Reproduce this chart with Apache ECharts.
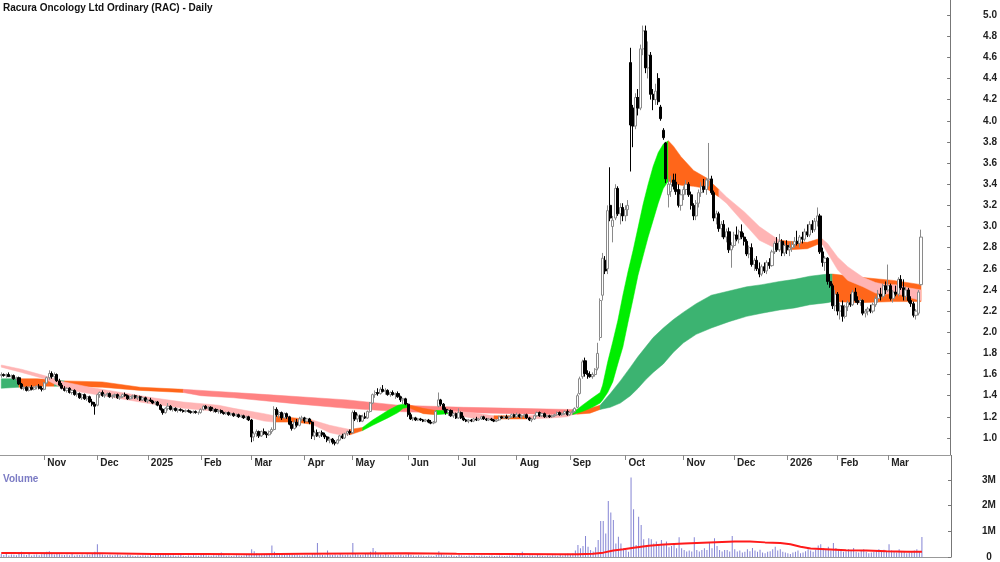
<!DOCTYPE html>
<html>
<head>
<meta charset="utf-8">
<script src="https://cdn.jsdelivr.net/npm/echarts@6/dist/echarts.min.js"></script>
<style>
  html, body { margin: 0; padding: 0; background: #fff; }
  #chart { width: 1000px; height: 562px; }
</style>
</head>
<body>
<div id="chart"></div>
<script>
// ASX trading calendar: weekdays minus these holidays
const holidays = ['2024-12-25', '2024-12-26', '2025-01-01', '2025-01-27', '2025-04-18', '2025-04-21',
  '2025-04-25', '2025-06-09', '2025-12-25', '2025-12-26', '2026-01-01', '2026-01-26']

// daily candles [open, high, low, close]
const oct24 = [[1.59,1.62,1.57,1.60],[1.60,1.61,1.58,1.59],[1.59,1.61,1.57,1.60],[1.60,1.62,1.58,1.58],[1.58,1.60,1.56,1.59],
  [1.59,1.60,1.55,1.56],[1.56,1.58,1.54,1.57],[1.57,1.58,1.50,1.51],[1.51,1.52,1.46,1.47],[1.47,1.49,1.45,1.48],
  [1.48,1.49,1.44,1.45],[1.45,1.49,1.44,1.48],[1.48,1.50,1.45,1.46],[1.46,1.49,1.45,1.48],[1.48,1.50,1.46,1.49],
  [1.49,1.51,1.46,1.47],[1.47,1.49,1.44,1.46]]
const nov24 = [[1.46,1.53,1.45,1.52],[1.52,1.58,1.51,1.57],[1.57,1.64,1.55,1.61],[1.61,1.63,1.56,1.58],[1.58,1.62,1.55,1.60],
  [1.60,1.61,1.53,1.54],[1.54,1.56,1.49,1.50],[1.50,1.52,1.46,1.47],[1.47,1.49,1.44,1.45],[1.45,1.48,1.43,1.47],
  [1.47,1.48,1.42,1.43],[1.43,1.46,1.41,1.45],[1.45,1.46,1.40,1.41],[1.41,1.44,1.39,1.42],[1.42,1.43,1.37,1.38],
  [1.38,1.42,1.36,1.41],[1.41,1.42,1.36,1.37],[1.37,1.40,1.35,1.39],[1.39,1.40,1.33,1.34],[1.34,1.37,1.30,1.32],
  [1.32,1.34,1.22,1.30]]
const dec24 = [[1.31,1.42,1.30,1.41],[1.41,1.44,1.38,1.43],[1.43,1.45,1.39,1.40],[1.40,1.42,1.38,1.41],[1.41,1.43,1.39,1.42],
  [1.42,1.43,1.38,1.39],[1.39,1.41,1.37,1.40],[1.40,1.42,1.38,1.41],[1.41,1.42,1.37,1.38],[1.38,1.40,1.36,1.39],
  [1.39,1.42,1.38,1.41],[1.41,1.43,1.39,1.40],[1.40,1.41,1.36,1.37],[1.37,1.40,1.36,1.39],[1.39,1.41,1.37,1.40],
  [1.40,1.41,1.37,1.38],[1.38,1.40,1.36,1.39],[1.39,1.40,1.35,1.36],[1.36,1.39,1.35,1.38],[1.38,1.39,1.34,1.35]]
const jan25 = [[1.35,1.37,1.33,1.36],[1.36,1.38,1.34,1.35],[1.35,1.36,1.32,1.33],[1.33,1.35,1.31,1.34],[1.34,1.35,1.30,1.31],
  [1.31,1.32,1.26,1.27],[1.27,1.28,1.22,1.24],[1.24,1.29,1.23,1.28],[1.28,1.33,1.26,1.30],[1.30,1.31,1.26,1.27],
  [1.27,1.29,1.25,1.28],[1.28,1.29,1.25,1.26],[1.26,1.28,1.24,1.27],[1.27,1.28,1.25,1.26],[1.26,1.27,1.24,1.25],
  [1.25,1.27,1.24,1.26],[1.26,1.27,1.24,1.25],[1.25,1.26,1.23,1.24],[1.24,1.26,1.23,1.25],[1.25,1.26,1.23,1.24],
  [1.24,1.25,1.22,1.24]]
const feb25 = [[1.24,1.28,1.23,1.27],[1.27,1.31,1.26,1.30],[1.30,1.31,1.27,1.28],[1.28,1.30,1.26,1.29],[1.29,1.30,1.25,1.26],
  [1.26,1.28,1.24,1.27],[1.27,1.28,1.24,1.25],[1.25,1.27,1.23,1.26],[1.26,1.27,1.23,1.24],[1.24,1.25,1.22,1.23],
  [1.23,1.25,1.22,1.24],[1.24,1.25,1.21,1.22],[1.22,1.24,1.21,1.23],[1.23,1.24,1.20,1.21],[1.21,1.23,1.20,1.22],
  [1.22,1.23,1.19,1.20],[1.20,1.22,1.19,1.21],[1.21,1.22,1.18,1.19],[1.19,1.21,1.17,1.20],[1.20,1.21,1.16,1.17]]
const mar25 = [[1.17,1.18,0.96,1.01],[1.01,1.06,0.97,1.04],[1.04,1.08,1.01,1.06],[1.06,1.07,1.00,1.02],[1.02,1.07,1.01,1.06],
  [1.06,1.09,1.03,1.04],[1.04,1.06,1.00,1.03],[1.03,1.07,1.02,1.06],[1.06,1.10,1.04,1.08],[1.08,1.30,1.07,1.27],
  [1.27,1.29,1.20,1.22],[1.22,1.26,1.19,1.24],[1.24,1.25,1.17,1.19],[1.19,1.24,1.18,1.23],[1.23,1.24,1.18,1.20],
  [1.20,1.21,1.12,1.13],[1.13,1.16,1.07,1.09],[1.09,1.17,1.08,1.15],[1.15,1.18,1.10,1.12],[1.12,1.20,1.11,1.18],
  [1.18,1.21,1.16,1.19]]
const apr25 = [[1.19,1.20,1.14,1.16],[1.16,1.19,1.15,1.18],[1.18,1.19,1.13,1.15],[1.15,1.16,0.99,1.02],[1.02,1.07,0.98,1.05],
  [1.05,1.08,1.01,1.02],[1.02,1.06,1.00,1.05],[1.05,1.07,1.01,1.03],[1.03,1.05,0.99,1.01],[1.01,1.02,0.96,0.98],
  [0.98,1.01,0.95,0.99],[0.99,1.00,0.94,0.96],[0.96,0.98,0.93,0.95],[0.95,0.99,0.94,0.98],[0.98,1.03,0.97,1.02],
  [1.02,1.04,0.99,1.00],[1.00,1.05,0.99,1.04],[1.04,1.07,1.02,1.06],[1.06,1.08,1.03,1.05]]
const may25 = [[1.05,1.26,1.04,1.24],[1.24,1.26,1.16,1.18],[1.18,1.23,1.15,1.21],[1.21,1.22,1.15,1.16],[1.16,1.22,1.15,1.20],
  [1.20,1.24,1.18,1.19],[1.19,1.26,1.18,1.25],[1.25,1.34,1.24,1.33],[1.33,1.42,1.32,1.41],[1.41,1.45,1.38,1.43],
  [1.43,1.47,1.40,1.42],[1.42,1.48,1.41,1.46],[1.46,1.50,1.43,1.44],[1.44,1.47,1.41,1.45],[1.45,1.46,1.40,1.41],
  [1.41,1.44,1.39,1.43],[1.43,1.45,1.40,1.41],[1.41,1.43,1.37,1.42],[1.42,1.44,1.38,1.39],[1.39,1.40,1.34,1.36],
  [1.36,1.38,1.32,1.37],[1.37,1.38,1.31,1.32]]
const jun25 = [[1.32,1.33,1.20,1.22],[1.22,1.24,1.17,1.18],[1.18,1.20,1.16,1.19],[1.19,1.20,1.16,1.17],[1.17,1.19,1.16,1.18],
  [1.18,1.19,1.16,1.17],[1.17,1.18,1.15,1.16],[1.16,1.18,1.15,1.17],[1.17,1.18,1.14,1.15],[1.15,1.17,1.13,1.14],
  [1.14,1.16,1.13,1.15],[1.15,1.26,1.14,1.25],[1.30,1.43,1.29,1.36],[1.36,1.37,1.30,1.32],[1.32,1.33,1.26,1.27],
  [1.27,1.29,1.22,1.24],[1.24,1.27,1.21,1.26],[1.26,1.27,1.20,1.21],[1.21,1.24,1.19,1.23],[1.23,1.24,1.18,1.19]]
const jul25 = [[1.19,1.28,1.18,1.24],[1.24,1.25,1.18,1.19],[1.19,1.21,1.16,1.17],[1.17,1.18,1.15,1.16],[1.16,1.18,1.14,1.17],
  [1.17,1.18,1.15,1.16],[1.16,1.19,1.15,1.18],[1.18,1.20,1.16,1.17],[1.17,1.19,1.16,1.18],[1.18,1.21,1.17,1.20],
  [1.20,1.21,1.17,1.18],[1.18,1.19,1.16,1.17],[1.17,1.19,1.16,1.18],[1.18,1.19,1.16,1.17],[1.17,1.18,1.15,1.16],
  [1.16,1.18,1.15,1.17],[1.17,1.21,1.16,1.20],[1.20,1.21,1.18,1.19],[1.19,1.21,1.18,1.20],[1.20,1.22,1.18,1.19],
  [1.19,1.21,1.17,1.20],[1.20,1.23,1.19,1.22],[1.22,1.23,1.19,1.20]]
const aug25 = [[1.20,1.24,1.19,1.22],[1.22,1.23,1.19,1.20],[1.20,1.22,1.18,1.21],[1.21,1.23,1.19,1.22],[1.22,1.23,1.18,1.19],
  [1.19,1.20,1.16,1.17],[1.17,1.19,1.15,1.18],[1.18,1.22,1.17,1.21],[1.21,1.25,1.20,1.24],[1.24,1.25,1.20,1.21],
  [1.21,1.24,1.20,1.23],[1.23,1.24,1.19,1.20],[1.20,1.22,1.19,1.21],[1.21,1.22,1.19,1.20],[1.20,1.22,1.19,1.21],
  [1.21,1.23,1.20,1.22],[1.22,1.25,1.21,1.24],[1.24,1.25,1.21,1.22],[1.22,1.24,1.21,1.23],[1.23,1.26,1.22,1.25],
  [1.25,1.27,1.21,1.22]]
const sep25 = [[1.22,1.25,1.21,1.24],[1.24,1.27,1.22,1.25],[1.25,1.29,1.24,1.28],[1.29,1.42,1.28,1.40],[1.42,1.58,1.41,1.56],
  [1.58,1.74,1.56,1.72],[1.73,1.76,1.58,1.61],[1.61,1.64,1.56,1.60],[1.60,1.63,1.57,1.58],[1.58,1.62,1.56,1.60],
  [1.60,1.66,1.58,1.65],[1.66,1.90,1.64,1.80],[1.95,2.32,1.92,2.30],[2.35,2.75,2.30,2.70],[2.68,2.72,2.55,2.58],
  [2.60,3.20,2.55,3.15],[3.20,3.56,3.05,3.08],[3.00,3.10,2.85,3.06],[3.08,3.40,3.06,3.36],[3.36,3.38,3.10,3.12],
  [3.12,3.22,3.02,3.18],[3.18,3.22,3.05,3.10]]
const oct25 = [[3.10,3.20,3.05,3.16],[3.16,3.25,3.10,3.20],[4.55,4.69,3.52,3.96],[4.12,4.15,3.75,3.95],[3.95,4.26,3.92,4.22],
  [4.22,4.30,4.05,4.12],[4.12,4.72,4.10,4.68],[4.68,4.90,4.62,4.85],[4.85,4.90,4.45,4.50],[4.50,4.75,4.40,4.62],
  [4.62,4.65,4.20,4.25],[4.25,4.30,4.10,4.20],[4.20,4.35,4.15,4.28],[4.40,4.45,4.15,4.18],[4.13,4.15,4.00,4.02],
  [3.91,3.93,3.82,3.84],[3.79,3.80,3.41,3.45],[3.30,3.45,3.18,3.40],[3.33,3.48,3.28,3.40],[3.44,3.50,3.35,3.38],
  [3.42,3.50,3.30,3.33],[3.35,3.40,3.18,3.20],[3.20,3.35,3.15,3.30]]
const nov25 = [[3.30,3.38,3.25,3.35],[3.35,3.44,3.30,3.40],[3.40,3.42,3.28,3.30],[3.30,3.33,3.16,3.20],[3.20,3.22,3.06,3.10],
  [3.10,3.25,3.06,3.22],[3.22,3.35,3.18,3.32],[3.32,3.42,3.28,3.38],[3.38,3.45,3.32,3.35],[3.35,3.46,3.30,3.44],
  [3.44,3.79,3.38,3.45],[3.45,3.48,3.30,3.32],[3.32,3.34,3.05,3.08],[3.08,3.15,3.02,3.12],[3.12,3.14,2.95,2.98],
  [2.98,3.05,2.90,3.02],[3.02,3.06,2.88,2.90],[2.90,2.98,2.85,2.95],[2.95,2.99,2.75,2.78],[2.78,2.85,2.61,2.82]]
const dec25 = [[2.82,2.95,2.80,2.92],[2.92,3.00,2.86,2.88],[2.88,2.97,2.84,2.95],[2.95,3.02,2.88,2.90],[2.90,2.94,2.82,2.86],
  [2.86,2.88,2.72,2.74],[2.74,2.82,2.70,2.80],[2.80,2.84,2.62,2.64],[2.64,2.70,2.58,2.68],[2.68,2.72,2.58,2.60],
  [2.60,2.66,2.52,2.55],[2.55,2.64,2.53,2.62],[2.62,2.66,2.56,2.58],[2.58,2.68,2.55,2.66],[2.66,2.70,2.60,2.63],
  [2.63,2.78,2.62,2.76],[2.76,2.86,2.74,2.84],[2.84,2.90,2.76,2.78],[2.78,2.93,2.76,2.86],[2.86,2.88,2.72,2.75],
  [2.75,2.84,2.72,2.82]]
const jan26 = [[2.82,2.87,2.74,2.78],[2.78,2.84,2.72,2.80],[2.80,2.86,2.76,2.83],[2.83,2.90,2.80,2.86],[2.86,2.96,2.82,2.84],
  [2.84,2.92,2.80,2.90],[2.90,2.95,2.84,2.88],[2.88,2.98,2.86,2.95],[2.95,3.02,2.90,2.92],[2.92,3.05,2.90,3.02],
  [3.02,3.06,2.94,2.97],[2.97,3.08,2.95,3.05],[3.05,3.18,3.00,3.10],[3.10,3.12,2.74,2.76],[2.76,2.80,2.62,2.66],
  [2.66,2.72,2.58,2.70],[2.70,2.71,2.45,2.48],[2.48,2.55,2.42,2.44],[2.44,2.46,2.22,2.25],[2.25,2.40,2.20,2.36]]
const feb26 = [[2.36,2.38,2.16,2.20],[2.20,2.28,2.12,2.25],[2.25,2.30,2.10,2.15],[2.15,2.26,2.13,2.24],[2.24,2.30,2.20,2.28],
  [2.28,2.36,2.24,2.26],[2.26,2.40,2.25,2.38],[2.38,2.42,2.28,2.30],[2.30,2.34,2.26,2.28],[2.28,2.32,2.25,2.30],
  [2.30,2.31,2.16,2.18],[2.18,2.22,2.14,2.20],[2.20,2.24,2.16,2.22],[2.22,2.26,2.18,2.20],[2.20,2.28,2.18,2.26],
  [2.26,2.34,2.24,2.32],[2.32,2.40,2.28,2.36],[2.36,2.42,2.30,2.34],[2.34,2.46,2.32,2.44],[2.44,2.48,2.36,2.40]]
const mar26 = [[2.40,2.64,2.38,2.44],[2.44,2.46,2.30,2.32],[2.32,2.40,2.28,2.38],[2.38,2.44,2.34,2.36],[2.36,2.52,2.34,2.50],
  [2.50,2.54,2.40,2.42],[2.42,2.50,2.30,2.34],[2.34,2.43,2.30,2.40],[2.40,2.42,2.28,2.30],[2.30,2.34,2.24,2.27],
  [2.27,2.29,2.14,2.16],[2.16,2.22,2.12,2.20],[2.18,2.40,2.16,2.38],[2.45,2.97,2.44,2.90]]

// daily volume, millions of shares
const volOct24 = [0.12,0.08,0.15,0.06,0.10,0.09,0.07,0.18,0.20,0.10,0.08,0.12,0.06,0.09,0.10,0.07,0.11]
const volNov24 = [0.15,0.20,0.22,0.12,0.10,0.14,0.11,0.09,0.08,0.10,0.07,0.12,0.06,0.09,0.08,0.10,0.07,0.11,0.09,0.13,0.20]
const volDec24 = [0.50,0.15,0.10,0.08,0.07,0.09,0.06,0.08,0.10,0.07,0.05,0.06,0.09,0.07,0.05,0.04,0.06,0.05,0.07,0.06]
const volJan25 = [0.06,0.08,0.05,0.07,0.09,0.12,0.14,0.10,0.08,0.06,0.07,0.05,0.06,0.08,0.05,0.04,0.06,0.05,0.07,0.06,0.05]
const volFeb25 = [0.08,0.12,0.07,0.06,0.05,0.07,0.06,0.08,0.18,0.07,0.05,0.06,0.04,0.05,0.07,0.06,0.05,0.06,0.08,0.10]
const volMar25 = [0.30,0.22,0.15,0.12,0.10,0.08,0.10,0.12,0.45,0.20,0.12,0.10,0.09,0.08,0.12,0.15,0.10,0.08,0.09,0.07,0.06]
const volApr25 = [0.07,0.08,0.06,0.15,0.12,0.55,0.10,0.08,0.07,0.25,0.09,0.08,0.10,0.07,0.12,0.09,0.08,0.10,0.07]
const volMay25 = [0.55,0.15,0.10,0.08,0.09,0.12,0.15,0.20,0.35,0.22,0.14,0.10,0.08,0.12,0.09,0.07,0.08,0.06,0.07,0.09,0.06,0.08]
const volJun25 = [0.12,0.08,0.06,0.05,0.07,0.06,0.05,0.04,0.06,0.05,0.04,0.08,0.22,0.12,0.07,0.06,0.05,0.07,0.05,0.04]
const volJul25 = [0.10,0.06,0.05,0.04,0.06,0.05,0.07,0.04,0.05,0.06,0.05,0.04,0.05,0.06,0.04,0.05,0.06,0.05,0.04,0.05,0.06,0.07,0.05]
const volAug25 = [0.08,0.12,0.20,0.06,0.05,0.07,0.06,0.05,0.08,0.06,0.05,0.04,0.06,0.05,0.07,0.06,0.05,0.08,0.06,0.10,0.14]
const volSep25 = [0.12,0.14,0.25,0.47,0.34,0.43,0.82,0.40,0.27,0.21,0.38,0.66,1.40,1.40,0.92,2.18,1.73,1.44,0.53,0.79,0.53,0.34]
const volOct25 = [0.27,0.20,3.10,1.86,0.47,1.57,1.25,0.69,0.43,0.73,0.69,0.53,0.60,0.49,0.66,0.47,0.60,0.38,0.43,0.47,0.34,0.77,0.34]
const volNov25 = [0.27,0.21,0.25,0.21,0.77,0.27,0.21,0.27,0.34,0.27,0.55,0.34,0.73,0.43,0.27,0.21,0.27,0.27,0.21,0.82]
const volDec25 = [0.30,0.21,0.25,0.18,0.20,0.30,0.22,0.35,0.25,0.20,0.28,0.18,0.15,0.20,0.22,0.30,0.40,0.25,0.30,0.20,0.18]
const volJan26 = [0.15,0.12,0.18,0.20,0.25,0.15,0.18,0.22,0.30,0.25,0.20,0.28,0.45,0.50,0.35,0.30,0.40,0.25,0.55,0.35]
const volFeb26 = [0.30,0.25,0.20,0.22,0.30,0.25,0.35,0.20,0.18,0.25,0.30,0.20,0.15,0.18,0.20,0.25,0.30,0.22,0.28,0.20]
const volMar26 = [0.50,0.25,0.20,0.18,0.30,0.22,0.20,0.15,0.18,0.20,0.25,0.30,0.22,0.78]

// volume moving average, read at bar index
const volMaIdx = [0,40,60,80,100,120,140,160,180,200,220,228,234,238,242,246,250,256,262,270,280,290,296,302,308,312,316,320,326,334,342,350,358,364]
const volMaVal = [0.16,0.15,0.12,0.12,0.11,0.13,0.14,0.15,0.13,0.12,0.11,0.11,0.13,0.17,0.25,0.30,0.36,0.44,0.49,0.53,0.57,0.60,0.60,0.57,0.55,0.50,0.40,0.33,0.30,0.26,0.25,0.22,0.20,0.20]

// short-term ribbon edges at bar index, trend of the stretch that starts there
const fastIdx = [0,8,17,25,35,45,60,72,86,92,104,108,116,123,130,134,138,143,147,153,157,159,161,167,172,177,186,195,208,218,224,226,230,234,
  237,238,240,242,244,246,248,250,252,254,256,258,260,262,264,266,269,274,279,284,287,294,300,306,308,312,319,323,325,327,331,335,341,346,350,354,359,364]
const fastHi = [1.69,1.65,1.59,1.53,1.48,1.44,1.38,1.34,1.31,1.28,1.23,1.21,1.19,1.17,1.12,1.10,1.08,1.10,1.17,1.26,1.31,1.32,1.315,1.28,1.26,1.26,1.24,1.21,1.21,1.22,1.23,1.233,1.31,1.38,
  1.43,1.50,1.72,1.91,2.11,2.35,2.57,2.77,2.99,3.21,3.40,3.57,3.70,3.78,3.81,3.76,3.66,3.53,3.46,3.35,3.28,3.14,3.00,2.90,2.87,2.86,2.85,2.88,2.88,2.84,2.71,2.62,2.52,2.47,2.45,2.45,2.42,2.40]
const fastLo = [1.67,1.62,1.56,1.46,1.42,1.38,1.32,1.28,1.25,1.23,1.16,1.15,1.15,1.13,1.05,1.03,1.03,1.07,1.12,1.19,1.24,1.28,1.29,1.23,1.22,1.23,1.19,1.18,1.18,1.19,1.20,1.22,1.25,1.29,
  1.33,1.36,1.43,1.53,1.70,1.86,2.09,2.31,2.54,2.72,2.90,3.06,3.22,3.36,3.43,3.41,3.39,3.38,3.36,3.28,3.22,3.03,2.87,2.80,2.78,2.78,2.79,2.83,2.83,2.75,2.59,2.49,2.43,2.37,2.36,2.37,2.33,2.30]
const fastTrend = ['down','down','down','down','down','down','down','down','down','down','down','mix','mix','down','down','down','mix',
  'up','up','up','up','up','mix','mix','up','down','down','mix','down','down','down','up','up','up',
  'up','up','up','up','up','up','up','up','up','up','up','up','up','up','mix','mix','mix','mix','mix','down','down','down','down','down',
  'mix','mix','mix','mix','down','down','down','down','down','down','down','down','down','down']

// long-term ribbon edges
const slowIdx = [0,7,14,21,25,40,55,72,79,92,105,118,137,157,170,183,204,224,228,233,
  237,241,245,249,252,255,258,262,266,270,275,281,288,295,301,308,314,320,327,329,340,353,364]
const slowHi = [1.56,1.56,1.56,1.55,1.54,1.53,1.48,1.46,1.45,1.43,1.41,1.39,1.36,1.31,1.30,1.29,1.28,1.27,1.27,1.28,
  1.31,1.42,1.54,1.67,1.77,1.86,1.95,2.04,2.12,2.19,2.27,2.35,2.39,2.43,2.45,2.48,2.50,2.53,2.55,2.55,2.52,2.49,2.45]
const slowLo = [1.47,1.48,1.49,1.49,1.49,1.48,1.45,1.43,1.40,1.38,1.35,1.32,1.28,1.25,1.24,1.24,1.23,1.22,1.225,1.235,
  1.27,1.29,1.33,1.40,1.47,1.55,1.62,1.70,1.81,1.90,1.98,2.04,2.10,2.15,2.18,2.21,2.23,2.26,2.28,2.29,2.28,2.29,2.29]
const slowTrend = ['up','mix','mix','up','mix','mix','mix','down','down','down','down','down','down','down','down','down','down','down','mix','mix',
  'up','up','up','up','up','up','up','up','up','up','up','up','up','up','up','up','up','up','up','mix','mix','mix','mix']

const priceTicks = [1.0,1.2,1.4,1.6,1.8,2.0,2.2,2.4,2.6,2.8,3.0,3.2,3.4,3.6,3.8,4.0,4.2,4.4,4.6,4.8,5.0]
const volTicks = [0, 1, 2, 3]

const FONT = '"Liberation Sans", Arial, sans-serif'
const fastColor = { up: '#00ee00', down: '#ffb4b4', mix: '#ff661a' }
const slowColor = { up: '#3cb371', down: '#ff8282', mix: '#ff661a' }
const monthNames = ['Jan','Feb','Mar','Apr','May','Jun','Jul','Aug','Sep','Oct','Nov','Dec']

// trading days
let dates = []
for (let d = new Date(Date.UTC(2024, 9, 9)); d <= new Date(Date.UTC(2026, 2, 19)); d.setUTCDate(d.getUTCDate() + 1)) {
  let wd = d.getUTCDay()
  let s = d.toISOString().slice(0, 10)
  if (wd > 0 && wd < 6 && holidays.indexOf(s) < 0) dates.push(s)
}
let category = dates.slice()
for (let i = 1; i <= 11; i++) category.push('pad' + i)

let monthLabel = category.map((s, i) => {
  if (i === 0 || s.startsWith('pad')) return ''
  if (s.slice(0, 7) === category[i - 1].slice(0, 7)) return ''
  let m = +s.slice(5, 7)
  return m === 1 ? s.slice(0, 4) : monthNames[m - 1]
})
let isMonthStart = (i) => !!monthLabel[i]

let candles = [].concat(oct24, nov24, dec24, jan25, feb25, mar25, apr25, may25, jun25, jul25, aug25, sep25, oct25, nov25, dec25, jan26, feb26, mar26)
  .map((c) => [c[0], c[3], c[2], c[1]])
let volume = [].concat(volOct24, volNov24, volDec24, volJan25, volFeb25, volMar25, volApr25, volMay25, volJun25, volJul25,
  volAug25, volSep25, volOct25, volNov25, volDec25, volJan26, volFeb26, volMar26)

// one polygon series per run of equal trend
function ribbon(idx, hi, lo, trend, colors, z) {
  let runs = []
  for (let k = 0; k < idx.length - 1; k++) {
    let last = runs[runs.length - 1]
    if (last && last.t === trend[k]) last.end = k + 1
    else runs.push({ t: trend[k], start: k, end: k + 1 })
  }
  return runs.map((r) => ({
    type: 'custom',
    xAxisIndex: 0,
    yAxisIndex: 0,
    z: z,
    silent: true,
    data: [[idx[r.start], lo[r.start]]],
    renderItem: (params, api) => {
      let top = []
      let bot = []
      for (let k = r.start; k <= r.end; k++) {
        top.push(api.coord([idx[k], hi[k]]))
        bot.unshift(api.coord([idx[k], lo[k]]))
      }
      return { type: 'polygon', shape: { points: top.concat(bot) }, style: { fill: colors[r.t], stroke: colors[r.t], lineWidth: 0.5 } }
    },
  }))
}

let myChart = echarts.init(document.getElementById('chart'))
let option = {
  animation: false,
  backgroundColor: '#fff',
  title: [
    { text: 'Racura Oncology Ltd Ordinary (RAC) - Daily', left: 3, top: 3, padding: 0,
      textStyle: { fontSize: 10, fontWeight: 'bold', color: '#111', fontFamily: FONT } },
    { text: 'Volume', left: 3, top: 474, padding: 0,
      textStyle: { fontSize: 10, fontWeight: 'bold', color: '#7b7bc4', fontFamily: FONT } },
  ],
  // right axis line carried across the gap between the two panels
  graphic: [
    { type: 'line', silent: true, shape: { x1: 951.5, y1: 455, x2: 951.5, y2: 469 }, style: { stroke: '#777', lineWidth: 1 } },
  ],
  grid: [
    { left: 0, right: 49, top: 0, height: 455 },
    { left: 0, right: 49, top: 469, height: 88 },
  ],
  xAxis: [
    {
      type: 'category', gridIndex: 0, data: category, boundaryGap: true,
      axisLine: { lineStyle: { color: '#999', width: 1 } },
      axisTick: { show: true, length: 5, alignWithLabel: true, interval: isMonthStart, lineStyle: { color: '#888' } },
      axisLabel: {
        interval: isMonthStart, formatter: (v, i) => monthLabel[i], align: 'left', margin: 3, padding: [0, 0, 0, 3],
        fontSize: 10, fontWeight: 'bold', color: '#222', fontFamily: FONT,
      },
      splitLine: { show: false },
    },
    {
      type: 'category', gridIndex: 1, data: category, boundaryGap: true, position: 'top',
      axisLine: { lineStyle: { color: '#999', width: 1 } },
      axisTick: { show: false }, axisLabel: { show: false }, splitLine: { show: false },
    },
  ],
  yAxis: [
    {
      type: 'value', gridIndex: 0, position: 'right', min: 0.839, max: 5.142, scale: true,
      axisLine: { show: true, lineStyle: { color: '#777' } },
      axisTick: { show: true, inside: true, length: 3, customValues: priceTicks, lineStyle: { color: '#777' } },
      axisLabel: {
        customValues: priceTicks, formatter: (v) => v.toFixed(1), margin: 33, align: 'left',
        fontSize: 10, fontWeight: 'bold', color: '#222', fontFamily: FONT,
      },
      splitLine: { show: false },
    },
    {
      type: 'value', gridIndex: 1, position: 'right', min: 0, max: 3.43,
      axisLine: { show: true, lineStyle: { color: '#777' } },
      axisTick: { show: true, inside: true, length: 3, customValues: volTicks, lineStyle: { color: '#777' } },
      axisLabel: {
        customValues: volTicks, formatter: (v) => (v === 0 ? '0' : v + 'M'), margin: 38, align: 'center',
        fontSize: 10, fontWeight: 'bold', color: '#222', fontFamily: FONT,
      },
      splitLine: { show: false },
    },
  ],
  series: [
    ...ribbon(slowIdx, slowHi, slowLo, slowTrend, slowColor, 1),
    ...ribbon(fastIdx, fastHi, fastLo, fastTrend, fastColor, 2),
    {
      name: 'RAC', type: 'candlestick', xAxisIndex: 0, yAxisIndex: 0, z: 5, barWidth: 2.6,
      itemStyle: { color: '#ffffff', color0: '#000000', borderColor: '#8a8a8a', borderColor0: '#000000', borderWidth: 1 },
      data: candles,
    },
    {
      name: 'Volume', type: 'bar', xAxisIndex: 1, yAxisIndex: 1, barWidth: 1,
      itemStyle: { color: '#8484d4' },
      data: volume,
    },
    {
      name: 'Volume MA', type: 'line', xAxisIndex: 1, yAxisIndex: 1, symbol: 'none', z: 4,
      lineStyle: { color: '#ff1a1a', width: 2 },
      data: volMaIdx.map((x, k) => [x, volMaVal[k]]),
    },
  ],
}
myChart.setOption(option, true)
</script>
</body>
</html>
